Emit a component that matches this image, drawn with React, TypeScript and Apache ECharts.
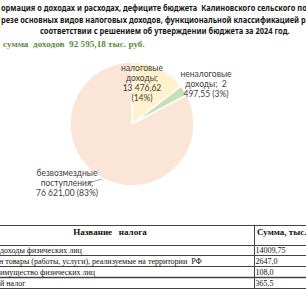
import React, { useEffect, useRef } from "react";
import * as echarts from "echarts";

const titleLines = [
  "ормация о доходах и расходах, дефиците бюджета  Калиновского сельского по",
  "резе основных видов налоговых доходов, функциональной классификацией р",
  "соответствии с решением об утверждении бюджета за 2024 год.",
];
const totalText = "сумма  доходов  92 595,18 тыс. руб.";
const categories = ["налоговые\nдоходы", "неналоговые\nдоходы", "безвозмездные\nпоступления"];
const values = [13476.62, 2497.55, 76621.0];
const percentLabels = ["14%", "3%", "83%"];
const sliceColors = ["#FFF2CC", "#C5E0B4", "#FBE5D6"];
const tableHeader = ["Название   налога", "Сумма, тыс."];
const taxNames = [
  "доходы физических лиц",
  "н товары (работы, услуги), реализуемые на территории  РФ",
  "имущество физических лиц",
  "й налог",
];
const taxSums = ["14009,75", "2647,0", "108,0", "365,5"];

function fmtValue(v: number): string {
  const [ip, dp] = v.toFixed(2).split(".");
  const grouped = ip.replace(/\B(?=(\d{3})+(?!\d))/g, " ");
  return grouped + "," + dp;
}

function measure(text: string, font: string): number {
  const c = document.createElement("canvas").getContext("2d")!;
  c.font = font;
  return c.measureText(text).width;
}

export default function App() {
  const ref = useRef<HTMLDivElement>(null);
  useEffect(() => {
    if (!ref.current) return;
    const chart = echarts.init(ref.current, undefined, { renderer: "svg" });

    const titleFont = "bold 9px 'Noto Sans'";
    const titleSpecs = [
      { x: 1, y: 7, w: 306 },
      { x: 1, y: 19, w: 305 },
      { x: 40, y: 30, w: 250 },
    ];
    const titleEls = titleLines.map((t, i) => {
      const s = titleSpecs[i];
      const sx = s.w / measure(t, titleFont);
      return {
        type: "text",
        x: s.x,
        y: s.y,
        scaleX: sx,
        style: {
          text: t,
          fontSize: 9,
          fontFamily: "Noto Sans",
          fontWeight: "bold",
          fill: "#1a1a1a",
          align: "left",
          verticalAlign: "middle",
        },
      };
    });

    const totalFont = "bold 9px 'Liberation Serif'";
    const totalEl = {
      type: "text",
      x: 3,
      y: 44,
      scaleX: 142 / measure(totalText, totalFont),
      style: {
        text: totalText,
        fontSize: 9,
        fontFamily: "Liberation Serif",
        fontWeight: "bold",
        fill: "#5b8c3a",
        align: "left",
        verticalAlign: "middle",
      },
    };

    const lineColor = "#444";
    const hLines = [225.5, 245.5, 255.5, 266.5, 277.5, 288.5].map((y, i) => ({
      type: "line",
      shape: { x1: 0, y1: y, x2: 306, y2: y },
      style: { stroke: lineColor, lineWidth: i === 4 ? 1.6 : 1 },
    }));
    const vLine = {
      type: "line",
      shape: { x1: 254.5, y1: 225, x2: 254.5, y2: 289 },
      style: { stroke: lineColor, lineWidth: 1 },
    };
    const headerEls = [
      {
        type: "text",
        x: 110,
        y: 232,
        style: {
          text: tableHeader[0],
          fontSize: 9,
          fontFamily: "Liberation Serif",
          fontWeight: "bold",
          fill: "#111",
          align: "center",
          verticalAlign: "middle",
        },
      },
      {
        type: "text",
        x: 257,
        y: 232,
        style: {
          text: tableHeader[1],
          fontSize: 9,
          fontFamily: "Liberation Serif",
          fontWeight: "bold",
          fill: "#111",
          align: "left",
          verticalAlign: "middle",
        },
      },
    ];
    const rowYs = [250.5, 261, 272, 283.5];
    const rowEls: any[] = [];
    taxNames.forEach((n, i) => {
      rowEls.push({
        type: "text",
        x: i === 1 ? -1 : 0,
        y: rowYs[i],
        style: {
          text: n,
          fontSize: 8,
          fontFamily: "Liberation Serif",
          fill: "#111",
          align: "left",
          verticalAlign: "middle",
        },
      });
      rowEls.push({
        type: "text",
        x: 255.5,
        y: rowYs[i],
        style: {
          text: taxSums[i],
          fontSize: 8,
          fontFamily: "Liberation Serif",
          fill: "#111",
          align: "left",
          verticalAlign: "middle",
        },
      });
    });

    const labelPos = [
      { x: 142, y: 83, align: "center", verticalAlign: "middle" },
      { x: 206, y: 83.5, align: "center", verticalAlign: "middle" },
      {
        x: 67,
        y: 183,
        align: "center",
        verticalAlign: "middle",
        labelLinePoints: [
          [102, 179],
          [95, 181],
          [88, 183],
        ],
      },
    ];

    const data = values.map((v, i) => ({
      name: categories[i],
      value: v,
      itemStyle: { color: sliceColors[i] },
      labelLine: { show: i === 2 },
    }));

    chart.setOption({
      animation: false,
      backgroundColor: "#ffffff",
      series: [
        {
          type: "pie",
          center: [132, 124],
          radius: 62,
          startAngle: 90,
          clockwise: true,
          avoidLabelOverlap: false,
          itemStyle: { borderColor: "#ffffff", borderWidth: 1.5 },
          emphasis: { disabled: true },
          label: {
            show: true,
            position: "outside",
            fontSize: 8.5,
            fontFamily: "Lato",
            color: "#404040",
            lineHeight: 10,
            formatter: (p: any) => {
              const i = p.dataIndex;
              const val = fmtValue(values[i]);
              if (i === 0) return `${categories[i]};\n${val}\n(${percentLabels[i]})`;
              if (i === 1) return `${categories[i]};  ${val.replace(" ", "\n")} (${percentLabels[i]})`;
              return `${categories[i]};\n${val} (${percentLabels[i]})`;
            },
          },
          labelLine: { lineStyle: { color: "#8c8c8c", width: 0.8 }, length: 5, length2: 5 },
          labelLayout: (p: any) => labelPos[p.dataIndex],
          data,
        },
      ],
      graphic: [...titleEls, totalEl, ...hLines, vLine, ...headerEls, ...rowEls],
    } as any);

    return () => chart.dispose();
  }, []);

  return (
    <div
      ref={ref}
      style={{ position: "fixed", left: 0, top: 0, width: 306, height: 306 }}
    />
  );
}
